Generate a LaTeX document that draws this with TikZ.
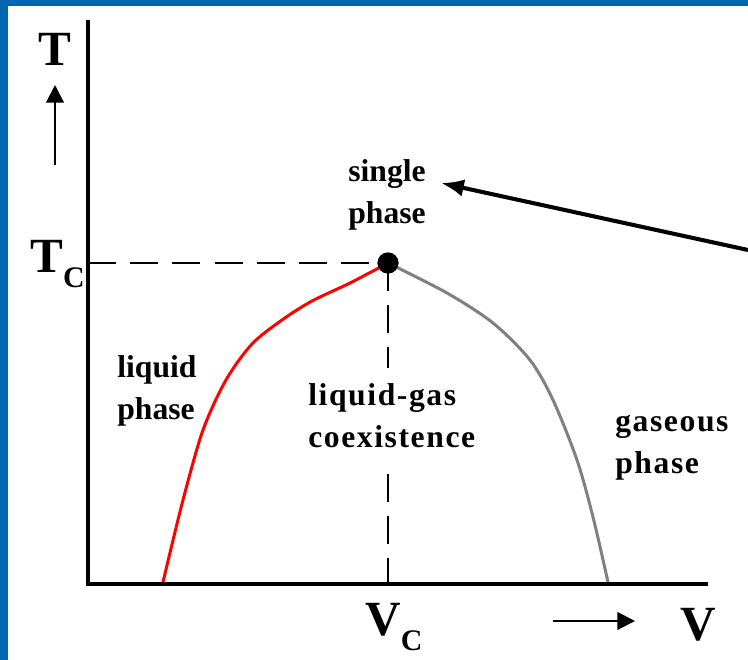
\documentclass[tikz,border=0pt]{standalone}
\usepackage{fontspec}
\setmainfont{Liberation Serif}
\usetikzlibrary{arrows.meta,calc}
\definecolor{frameblue}{RGB}{0,102,178}
\definecolor{gasgray}{RGB}{128,128,128}
\tikzset{
  axis/.style={line width=2pt},
  guide/.style={line width=1pt,dash pattern=on 16pt off 8pt},
  curve/.style={line width=1.7pt},
  region/.style={font=\fontsize{18}{24}\selectfont\bfseries,inner sep=0pt},
  spaced/.style={font=\fontsize{18}{24}\selectfont\bfseries\addfontfeatures{LetterSpace=5}},
  axlabel/.style={font=\fontsize{28}{30}\selectfont\bfseries,inner sep=0pt,anchor=base west},
  dirarrow/.style={line width=1.2pt,-{Triangle[length=10pt,width=10pt]}},
  pointer/.style={line width=2.3pt,-{Latex[length=13pt,width=10pt]}},
  critdot/.style={circle,fill,inner sep=0pt,minimum size=0.42cm}
}
\newcommand{\critsub}[2]{#1\raisebox{-9pt}{\fontsize{17}{18}\selectfont #2}}
\begin{document}
\begin{tikzpicture}[x=0.02cm,y=-0.02cm]
\useasboundingbox (0,0) rectangle (748,660);
\fill[white] (0,0) rectangle (748,660);
\fill[frameblue] (0,0) rectangle (8,660);
\fill[frameblue] (0,0) rectangle (748,6);

\coordinate (o) at (88,584);
\coordinate (ytop) at (88,20);
\coordinate (xend) at (708,584);
\coordinate (tc) at (88,263);
\coordinate (vc) at (388,584);
\draw[axis] (ytop) -- (o) -- (xend);

\node[critdot] (cp) at (388,263) {};
\draw[guide] (tc) -- (cp.center);
\draw[guide] (cp.center) -- (vc);

\draw[curve,red] plot[smooth] coordinates {(163,582) (183,500) (203,430) (226,380) (252,344) (282,320) (312,301) (350,283) (388,263)};
\draw[curve,gasgray] plot[smooth] coordinates {(388,263) (447,293) (493,323) (530,360) (553,400) (577,460) (593,517) (608,582)};
\node[critdot] at (cp) {};

\node[axlabel] (tlbl) at (38,65) {T};
\coordinate (tup0) at (55,165);
\coordinate (tup1) at (55,85);
\draw[dirarrow] (tup0) -- (tup1);
\node[axlabel] (tclbl) at (30,272) {\critsub{T}{C}};
\node[axlabel] (vclbl) at (365,635) {\critsub{V}{C}};
\node[axlabel] (vlbl) at (680,640) {V};
\coordinate (vright0) at (553,621);
\coordinate (vright1) at (635,621);
\draw[dirarrow] (vright0) -- (vright1);

\node[region,align=center] (sp) at (387,195) {single\\phase};
\node[region,align=left,anchor=west] (lp) at (117,391) {liquid\\phase};
\node[region,spaced,align=left,anchor=west,fill=white,inner ysep=9pt] (lg) at (308,416) {liquid-gas\\coexistence};
\node[region,spaced,align=left,anchor=west] (gp) at (615,448) {gaseous\\phase};

\coordinate (ptr) at (748,250);
\draw[pointer] (ptr) -- ($(sp.east)+(15,-12)$);
\end{tikzpicture}
\end{document}
